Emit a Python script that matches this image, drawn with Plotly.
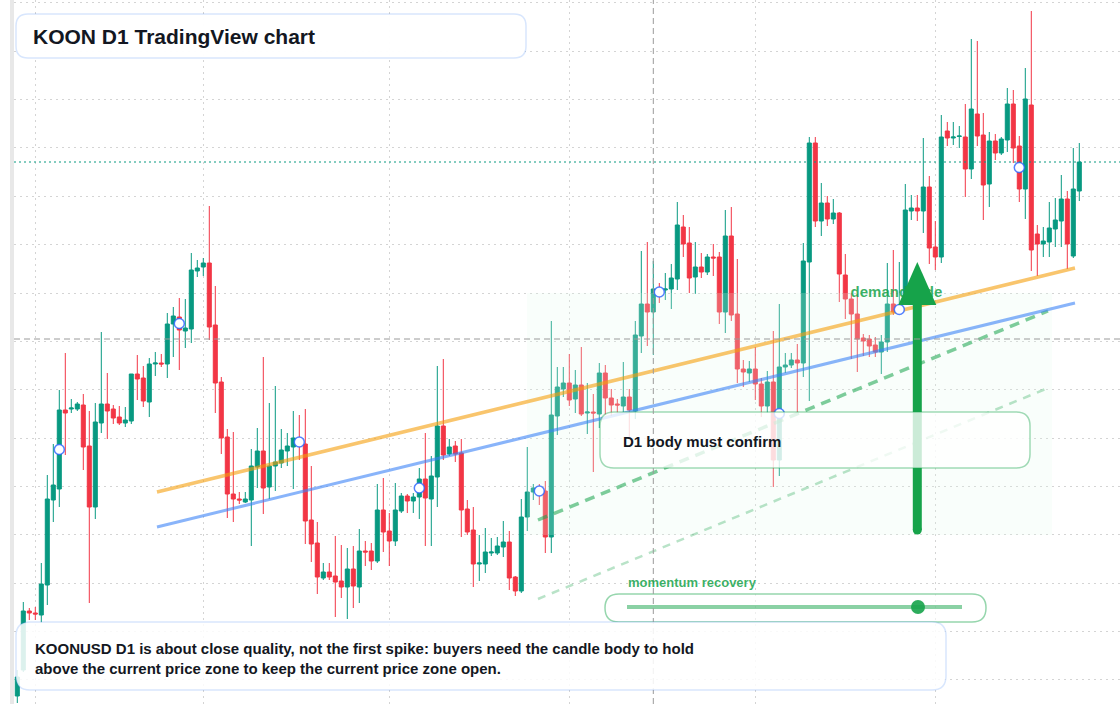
import plotly.graph_objects as go
import pandas as pd

# ---------------- data ----------------
dates = pd.date_range("2025-01-29", periods=178, freq="D")

opens = [
    3.04, 3.30, 3.89, 3.87, 3.85, 4.15, 5.00, 5.11, 5.90, 5.91,
    5.91, 5.95, 5.54, 4.93, 5.77, 5.96, 5.91, 5.83, 5.77, 5.79,
    6.26, 6.22, 5.98, 6.36, 6.37, 6.36, 6.76, 6.83, 6.69, 6.71,
    7.29, 7.33, 7.37, 6.75, 6.18, 5.63, 5.06, 5.01, 4.98, 5.00,
    5.33, 5.49, 5.13, 5.34, 5.37, 5.49, 5.53, 5.60, 5.56, 4.80,
    4.57, 4.22, 4.28, 4.24, 4.19, 4.13, 4.31, 4.13, 4.49, 4.49,
    4.39, 4.90, 4.69, 4.59, 4.89, 5.04, 4.99, 5.03, 5.21, 5.01,
    5.23, 5.74, 5.46, 5.54, 5.47, 4.91, 4.70, 4.36, 4.36, 4.47,
    4.47, 4.53, 4.58, 4.23, 4.09, 4.83, 5.08, 5.11, 5.09, 4.63,
    5.84, 6.11, 6.17, 6.01, 6.15, 5.87, 5.88, 5.86, 6.27, 6.02,
    5.96, 5.94, 6.03, 5.89, 6.64, 6.96, 6.88, 7.11, 7.10, 7.11,
    7.21, 7.73, 7.57, 7.23, 7.33, 7.28, 7.43, 7.43, 6.88, 7.64,
    6.86, 6.31, 6.27, 6.31, 6.16, 5.94, 6.18, 5.40, 6.33, 6.35,
    6.40, 6.37, 7.38, 8.57, 7.79, 7.97, 7.81, 7.87, 7.25, 7.01,
    6.86, 6.62, 6.61, 6.55, 6.48, 6.58, 6.96, 6.89, 6.97, 7.89,
    7.92, 7.89, 8.13, 7.53, 7.43, 8.69, 8.62, 8.635, 8.63, 8.31,
    8.86, 8.65, 8.16, 8.59, 8.47, 8.60, 8.96, 8.54, 8.11, 8.95,
    7.66, 7.56, 7.58, 7.71, 7.79, 8.01, 7.44, 8.09,
]
highs = [
    3.30, 3.98, 3.92, 3.93, 4.37, 5.25, 5.56, 6.10, 6.47, 6.01,
    5.98, 6.06, 5.89, 5.97, 6.68, 6.27, 5.95, 5.94, 5.93, 6.26,
    6.45, 6.34, 6.42, 6.48, 6.46, 6.87, 6.93, 7.02, 7.01, 7.47,
    7.40, 7.42, 7.94, 7.14, 6.23, 5.71, 5.68, 5.08, 5.08, 5.51,
    5.72, 6.43, 5.97, 6.14, 5.71, 5.67, 5.89, 5.85, 5.91, 5.34,
    4.78, 4.37, 4.37, 4.64, 4.55, 4.52, 4.54, 4.71, 4.59, 4.57,
    5.16, 5.22, 4.87, 5.17, 5.07, 5.06, 5.07, 5.32, 5.67, 5.44,
    6.34, 6.41, 5.61, 5.59, 5.61, 5.00, 4.93, 4.65, 4.72, 4.62,
    4.63, 4.79, 4.69, 4.24, 5.01, 5.53, 5.16, 5.16, 5.19, 6.79,
    6.33, 6.33, 6.46, 6.30, 6.53, 6.17, 6.06, 6.37, 6.35, 6.11,
    6.01, 6.38, 6.11, 6.79, 7.49, 7.58, 7.39, 7.17, 7.27, 7.36,
    7.98, 7.85, 7.73, 7.58, 7.47, 7.46, 7.56, 7.48, 7.90, 7.93,
    7.41, 6.40, 6.39, 6.53, 6.22, 6.29, 6.69, 6.96, 6.47, 6.47,
    6.56, 7.57, 8.63, 8.63, 8.17, 8.04, 8.01, 7.88, 7.46, 7.07,
    7.06, 6.66, 6.65, 6.63, 6.65, 7.37, 7.50, 7.38, 8.16, 8.05,
    8.05, 8.62, 8.24, 7.79, 8.85, 8.78, 8.78, 8.74, 8.96, 9.61,
    9.59, 8.87, 8.68, 8.66, 8.63, 9.12, 9.10, 8.64, 9.32, 9.89,
    7.75, 7.73, 7.98, 8.02, 8.25, 8.09, 8.52, 8.57,
]
lows = [
    2.97, 3.28, 3.80, 3.80, 3.77, 3.95, 4.78, 4.93, 5.45, 5.87,
    5.89, 5.30, 3.97, 4.81, 5.67, 5.61, 5.76, 5.75, 5.73, 5.76,
    6.00, 5.93, 5.83, 6.24, 6.33, 6.22, 6.43, 6.30, 6.52, 6.57,
    7.23, 7.24, 6.60, 5.87, 5.46, 4.82, 4.78, 4.96, 4.97, 4.54,
    5.12, 4.86, 5.01, 5.09, 5.32, 5.34, 5.11, 5.40, 4.56, 4.38,
    4.06, 4.20, 4.20, 3.83, 4.02, 3.81, 3.92, 3.97, 4.34, 4.30,
    4.37, 4.48, 4.34, 4.54, 4.87, 4.87, 4.87, 4.81, 4.54, 4.54,
    4.93, 5.40, 5.44, 5.38, 4.63, 4.65, 4.13, 4.19, 4.27, 4.44,
    4.45, 4.43, 4.10, 4.04, 4.07, 4.69, 5.00, 4.95, 4.47, 4.47,
    5.65, 6.03, 5.94, 5.87, 5.84, 5.66, 5.28, 5.72, 5.85, 5.84,
    5.87, 5.88, 5.63, 5.81, 6.47, 6.54, 6.45, 6.97, 7.00, 6.91,
    7.10, 7.43, 7.07, 7.06, 7.22, 7.25, 7.24, 6.76, 6.67, 6.79,
    6.17, 6.13, 6.18, 6.00, 5.83, 5.87, 5.13, 5.24, 6.27, 6.32,
    5.88, 6.23, 5.99, 7.73, 7.64, 7.74, 7.76, 6.98, 6.81, 6.41,
    6.28, 6.44, 6.43, 6.43, 6.26, 6.48, 6.85, 6.86, 6.95, 7.80,
    7.79, 7.67, 7.36, 7.30, 7.37, 8.54, 8.55, 8.52, 8.03, 8.21,
    8.54, 7.80, 7.93, 8.40, 8.45, 8.48, 8.37, 7.98, 7.81, 7.29,
    7.24, 7.43, 7.43, 7.53, 7.53, 7.31, 7.42, 7.99,
]
closes = [
    3.23, 3.89, 3.87, 3.86, 4.16, 5.01, 5.15, 5.90, 5.87, 5.92,
    5.96, 5.53, 4.93, 5.78, 5.96, 5.89, 5.82, 5.77, 5.80, 6.26,
    6.21, 5.99, 6.36, 6.37, 6.36, 6.76, 6.84, 6.70, 6.72, 7.30,
    7.32, 7.37, 6.73, 6.17, 5.62, 5.06, 5.01, 5.00, 5.01, 5.34,
    5.49, 5.12, 5.34, 5.38, 5.50, 5.54, 5.62, 5.56, 4.79, 4.56,
    4.23, 4.28, 4.23, 4.18, 4.13, 4.31, 4.14, 4.49, 4.48, 4.39,
    4.90, 4.68, 4.59, 4.90, 5.04, 4.99, 5.03, 5.21, 5.02, 5.24,
    5.74, 5.45, 5.53, 5.46, 4.90, 4.68, 4.36, 4.37, 4.48, 4.48,
    4.54, 4.58, 4.22, 4.09, 4.83, 5.08, 5.12, 5.07, 4.63, 5.85,
    6.13, 6.17, 6.00, 6.15, 5.86, 5.88, 5.87, 6.27, 6.02, 5.95,
    5.95, 6.03, 5.90, 6.65, 6.96, 6.88, 7.11, 7.05, 7.11, 7.22,
    7.75, 7.56, 7.22, 7.33, 7.28, 7.43, 7.42, 6.88, 7.64, 6.85,
    6.31, 6.28, 6.31, 6.16, 5.94, 6.18, 5.40, 6.33, 6.35, 6.40,
    6.37, 7.39, 8.57, 7.79, 7.97, 7.81, 7.87, 7.26, 7.01, 6.86,
    6.61, 6.59, 6.54, 6.48, 6.58, 6.96, 6.88, 6.92, 7.90, 7.92,
    7.89, 8.13, 7.52, 7.43, 8.63, 8.62, 8.63, 8.64, 8.31, 8.91,
    8.64, 8.15, 8.59, 8.47, 8.61, 8.96, 8.52, 8.11, 9.01, 7.50,
    7.56, 7.59, 7.72, 7.80, 8.01, 7.56, 8.11, 8.38,
]
marker_idx = [7, 27, 47, 67, 87, 107, 127, 147, 167]

trend_dates = ["2025-02-21 06:43", "2025-07-24 06:43"]
orange_trend = [5.08, 7.32]
blue_trend = [4.73, 6.97]
guide_dates = ["2025-04-25 18:43", "2025-07-19 18:43"]
guide_upper = [4.80, 6.89]
guide_lower = [4.01, 6.12]
zone_dates = ["2025-04-23 22:48", "2025-07-20 10:48"]
zone_prices = [4.65, 7.07]
arrow_date = "2025-06-28"
arrow_prices = [4.70, 6.95, 7.38]  # tail, head base, tip
label_date = "2025-06-16 21:00"
label_price = 7.07
crosshair_date = "2025-05-15"
crosshair_price = 6.61

title_text = "KOON D1 TradingView chart"
note_text = ("KOONUSD D1 is about close quality, not the first spike: buyers need the candle body to hold"
             "<br>above the current price zone to keep the current price zone open.")
confirm_text = "D1 body must confirm"
momentum_text = "momentum recovery"
zone_text = "demand side"

# ---------------- styling / layout helpers ----------------
W, H = 1120, 704
ML = 14
PW = W - ML
FONT = "Liberation Sans, Arial, Helvetica, sans-serif"
UP, DOWN = "#089981", "#f23645"
GREEN = "#16a34a"
DARK = "#131722"

BASE = pd.Timestamp("2025-02-01")
PX_FEB1, PX_PER_DAY = 35.3, 6.0


def xdate(X):
    return BASE + pd.Timedelta(days=(X - PX_FEB1) / PX_PER_DAY)


def px(X):
    return (X - ML) / PW


def py(Y):
    return 1 - Y / H


def rrect(x0, y0, x1, y1, r):
    return (f"M{px(x0 + r)},{py(y0)} L{px(x1 - r)},{py(y0)} "
            f"Q{px(x1)},{py(y0)} {px(x1)},{py(y0 + r)} "
            f"L{px(x1)},{py(y1 - r)} Q{px(x1)},{py(y1)} {px(x1 - r)},{py(y1)} "
            f"L{px(x0 + r)},{py(y1)} Q{px(x0)},{py(y1)} {px(x0)},{py(y1 - r)} "
            f"L{px(x0)},{py(y0 + r)} Q{px(x0)},{py(y0)} {px(x0 + r)},{py(y0)} Z")


fig = go.Figure()

fig.add_trace(go.Candlestick(
    x=dates, open=opens, high=highs, low=lows, close=closes,
    increasing=dict(line=dict(color=UP, width=1), fillcolor=UP),
    decreasing=dict(line=dict(color=DOWN, width=1), fillcolor=DOWN),
    whiskerwidth=0, hoverinfo="skip", showlegend=False,
))

# demand zone overlay
z0, z1 = pd.Timestamp(zone_dates[0]), pd.Timestamp(zone_dates[1])
fig.add_trace(go.Scatter(
    x=[z0, z1, z1, z0, z0],
    y=[zone_prices[0], zone_prices[0], zone_prices[1], zone_prices[1], zone_prices[0]],
    mode="lines", fill="toself", fillcolor="rgba(228,250,236,0.22)",
    line=dict(width=0), hoverinfo="skip", showlegend=False,
))

# guide lines
fig.add_trace(go.Scatter(x=pd.to_datetime(guide_dates), y=guide_lower, mode="lines",
                         line=dict(color="rgba(22,163,74,0.3)", width=2.5, dash="8px,7px"),
                         hoverinfo="skip", showlegend=False))
fig.add_trace(go.Scatter(x=pd.to_datetime(guide_dates), y=guide_upper, mode="lines",
                         line=dict(color="rgba(22,163,74,0.55)", width=3.5, dash="10px,7px"),
                         hoverinfo="skip", showlegend=False))
fig.add_trace(go.Scatter(x=pd.to_datetime(trend_dates), y=blue_trend, mode="lines",
                         line=dict(color="rgba(59,130,246,0.6)", width=3),
                         hoverinfo="skip", showlegend=False))
fig.add_trace(go.Scatter(x=pd.to_datetime(trend_dates), y=orange_trend, mode="lines",
                         line=dict(color="rgba(245,158,11,0.6)", width=3.5),
                         hoverinfo="skip", showlegend=False))

# markers at body mid-points
fig.add_trace(go.Scatter(
    x=[dates[i] for i in marker_idx],
    y=[(opens[i] + closes[i]) / 2 for i in marker_idx],
    mode="markers",
    marker=dict(symbol="circle", size=10, color="white",
                line=dict(color="rgba(41,98,255,0.8)", width=1.5)),
    hoverinfo="skip", showlegend=False,
))

# zone label
fig.add_trace(go.Scatter(
    x=[pd.Timestamp(label_date)], y=[label_price], mode="text", text=[f"<b>{zone_text}</b>"],
    textposition="middle right",
    textfont=dict(family=FONT, size=15, color="rgba(22,163,74,0.85)"),
    hoverinfo="skip", showlegend=False,
))

# arrow
ad = pd.Timestamp(arrow_date)
half = pd.Timedelta(days=19 / PX_PER_DAY)
fig.add_trace(go.Scatter(x=[ad, ad], y=[arrow_prices[0], arrow_prices[1] + 0.02], mode="lines",
                         line=dict(color=GREEN, width=9), hoverinfo="skip", showlegend=False))
fig.add_trace(go.Scatter(x=[ad], y=[arrow_prices[0]], mode="markers",
                         marker=dict(color=GREEN, size=9), hoverinfo="skip", showlegend=False))
fig.add_trace(go.Scatter(
    x=[ad - half, ad, ad + half, ad - half],
    y=[arrow_prices[1], arrow_prices[2], arrow_prices[1], arrow_prices[1]],
    mode="lines", fill="toself", fillcolor=GREEN, line=dict(width=0, color=GREEN),
    hoverinfo="skip", showlegend=False,
))

shapes = [
    # D1 confirm box
    dict(type="path", path=rrect(600, 412, 1030, 468, 14), xref="paper", yref="paper",
         fillcolor="rgba(255,255,255,0.78)", line=dict(color="rgba(22,163,74,0.4)", width=1.5), layer="above"),
    # slider
    dict(type="path", path=rrect(605, 594, 986, 622, 14), xref="paper", yref="paper",
         fillcolor="rgba(255,255,255,0.6)", line=dict(color="rgba(22,163,74,0.45)", width=1.5), layer="above"),
    dict(type="line", xref="paper", yref="paper", x0=px(627), x1=px(962), y0=py(607), y1=py(607),
         line=dict(color="rgba(22,163,74,0.5)", width=4), layer="above"),
    dict(type="circle", xref="paper", yref="paper", x0=px(911), x1=px(925), y0=py(600), y1=py(614),
         fillcolor="rgba(22,163,74,0.9)", line=dict(width=0), layer="above"),
    # crosshair
    dict(type="line", xref="x", yref="paper", x0=crosshair_date, x1=crosshair_date, y0=0, y1=1,
         line=dict(color="#9a9a9a", width=1, dash="6px,4px"), layer="above"),
    dict(type="line", xref="paper", yref="y", x0=0, x1=1, y0=crosshair_price, y1=crosshair_price,
         line=dict(color="#9a9a9a", width=1, dash="6px,4px"), layer="above"),
    # last price line
    dict(type="line", xref="paper", yref="y", x0=0, x1=1, y0=closes[-1], y1=closes[-1],
         line=dict(color=UP, width=1, dash="2px,3px"), layer="above"),
    # title box
    dict(type="path", path=rrect(16, 14, 526, 58, 12), xref="paper", yref="paper",
         fillcolor="rgba(255,255,255,0.97)", line=dict(color="rgba(59,130,246,0.2)", width=1.5), layer="above"),
    # bottom note box
    dict(type="path", path=rrect(16, 622, 946, 690, 14), xref="paper", yref="paper",
         fillcolor="rgba(255,255,255,0.86)", line=dict(color="rgba(59,130,246,0.2)", width=1.5), layer="above"),
    # left strip
    dict(type="rect", xref="paper", yref="paper", x0=px(10), x1=px(14), y0=0, y1=1,
         fillcolor="#e8e8e8", line=dict(width=0), layer="above"),
]

annotations = [
    dict(text=f"<b>{title_text}</b>", x=px(32), y=py(36), xref="paper", yref="paper",
         xanchor="left", yanchor="middle", showarrow=False, borderpad=0,
         font=dict(family=FONT, size=21, color=DARK)),
    dict(text=f"<b>{note_text}</b>", x=px(34), y=py(658), xref="paper", yref="paper",
         xanchor="left", yanchor="middle", align="left", showarrow=False, borderpad=0,
         font=dict(family=FONT, size=15, color=DARK)),
    dict(text=f"<b>{confirm_text}</b>", x=px(622), y=py(441), xref="paper", yref="paper",
         xanchor="left", yanchor="middle", showarrow=False, borderpad=0,
         font=dict(family=FONT, size=15, color=DARK)),
    dict(text=f"<b>{momentum_text}</b>", x=px(627), y=py(582), xref="paper", yref="paper",
         xanchor="left", yanchor="middle", showarrow=False, borderpad=0,
         font=dict(family=FONT, size=13, color="rgba(22,163,74,0.85)")),
]

fig.update_layout(
    width=W, height=H,
    margin=dict(l=ML, r=0, t=0, b=0, pad=0),
    paper_bgcolor="white", plot_bgcolor="white",
    showlegend=False,
    boxgap=0.33, boxgroupgap=0,
    shapes=shapes, annotations=annotations,
    xaxis=dict(type="date", range=[xdate(ML), xdate(W)], dtick="M1", tick0="2025-01-01",
               showgrid=True, gridcolor="#d4d4d4", griddash="2px,4px", gridwidth=1,
               showticklabels=False, ticks="", zeroline=False, showline=False,
               rangeslider=dict(visible=False), fixedrange=True),
    yaxis=dict(range=[2.96, 10.0], tick0=9.972, dtick=0.4837,
               showgrid=True, gridcolor="#d4d4d4", griddash="2px,4px", gridwidth=1,
               showticklabels=False, ticks="", zeroline=False, showline=False, fixedrange=True),
)

fig.write_html("out.html", config={"displayModeBar": False})
